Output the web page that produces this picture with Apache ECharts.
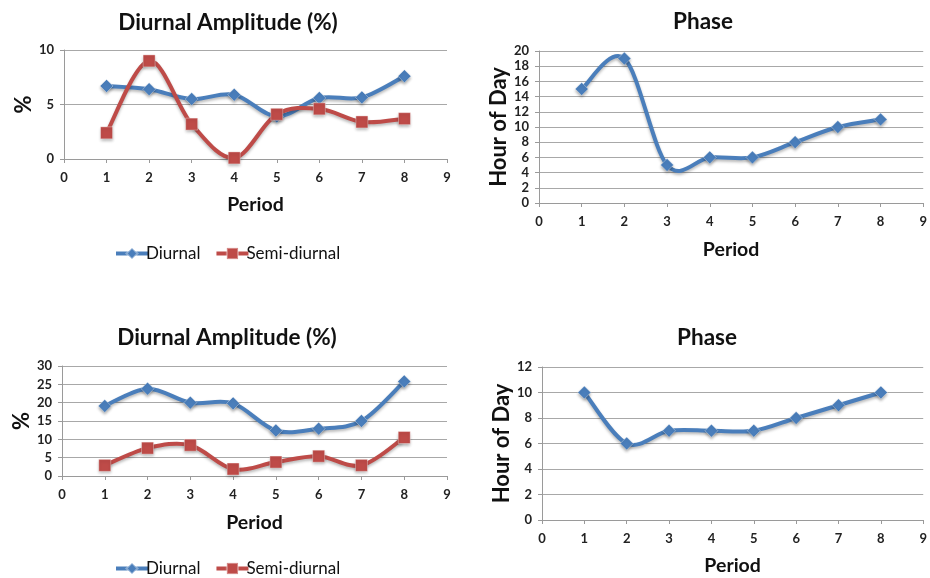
<!DOCTYPE html>
<html>
<head>
<meta charset="utf-8">
<script src="https://cdn.jsdelivr.net/npm/echarts@6/dist/echarts.min.js"></script>
<style>
  html, body { margin: 0; padding: 0; background: #fff; }
  #chart { width: 930px; height: 578px; }
</style>
</head>
<body>
<div id="chart"></div>
<script>
// Periods shared by all four panels
const periods = [1, 2, 3, 4, 5, 6, 7, 8];

// Upper panels
const ampDiurnalA = [6.7, 6.4, 5.5, 5.9, 3.9, 5.6, 5.65, 7.6];
const ampSemiA = [2.4, 9.0, 3.2, 0.1, 4.1, 4.6, 3.4, 3.7];
const phaseA = [15, 19, 5, 6, 6, 8, 10, 11];

// Lower panels
const ampDiurnalB = [19.1, 23.8, 20, 19.8, 12.4, 12.9, 15, 25.8];
const ampSemiB = [2.9, 7.6, 8.4, 1.9, 3.8, 5.4, 2.9, 10.5];
const phaseB = [10, 6, 7, 7, 7, 8, 9, 10];

const BLUE = '#4a7ebb';
const RED = '#be4b48';
const FONT = 'Lato, "Open Sans", sans-serif';
const AXIS_GREY = '#9a9a9a';

const pairs = (ys) => periods.map((p, i) => [p, ys[i]]);

function xAxis(gridIndex, gap) {
  return {
    type: 'value', gridIndex, min: 0, max: 9, interval: 1,
    name: 'Period', nameLocation: 'middle', nameGap: gap,
    nameTextStyle: { fontFamily: FONT, fontWeight: 'bold', fontSize: 19.5, color: '#111' },
    axisLine: { show: true, onZero: false, lineStyle: { color: AXIS_GREY, width: 1 } },
    axisTick: { show: true, length: 4, lineStyle: { color: AXIS_GREY } },
    axisLabel: { fontFamily: FONT, fontWeight: 'bold', fontSize: 13, color: '#222', margin: 12 },
    splitLine: { show: false }
  };
}

function yAxis(gridIndex, max, interval, name, gap) {
  return {
    type: 'value', gridIndex, min: 0, max, interval,
    name, nameLocation: 'middle', nameGap: gap, nameRotate: 90,
    nameTextStyle: { fontFamily: FONT, fontWeight: 'bold', fontSize: 22, color: '#111' },
    axisLine: { show: true, lineStyle: { color: AXIS_GREY, width: 1 } },
    axisTick: { show: true, length: 4, lineStyle: { color: AXIS_GREY } },
    axisLabel: { fontFamily: FONT, fontWeight: 'bold', fontSize: 13, color: '#222', margin: 10 },
    splitLine: { show: true, lineStyle: { color: '#a8a8a8', width: 1 } }
  };
}

// Smoothed curve through the points (cardinal spline, one Bezier piece per interval)
function curve(data, idx, color) {
  const pts = pairs(data);
  return {
    type: 'custom', xAxisIndex: idx, yAxisIndex: idx,
    data: pts, silent: true, z: 1,
    renderItem(params, api) {
      const i = params.dataIndex;
      if (i >= pts.length - 1) return null;
      const P = pts.map((d) => api.coord(d));
      const p0 = P[Math.max(i - 1, 0)], p1 = P[i], p2 = P[i + 1], p3 = P[Math.min(i + 2, P.length - 1)];
      const k = 1 / 6;
      return {
        type: 'bezierCurve',
        shape: {
          x1: p1[0], y1: p1[1], x2: p2[0], y2: p2[1],
          cpx1: p1[0] + (p2[0] - p0[0]) * k, cpy1: p1[1] + (p2[1] - p0[1]) * k,
          cpx2: p2[0] - (p3[0] - p1[0]) * k, cpy2: p2[1] - (p3[1] - p1[1]) * k
        },
        style: {
          stroke: color, lineWidth: 4, fill: null, lineCap: 'round',
          shadowColor: 'rgba(0,0,0,0.28)', shadowBlur: 3, shadowOffsetY: 2
        }
      };
    }
  };
}

// Point markers (line series without a visible stroke, so the legend keeps its line icon)
function markers(name, data, idx, color, symbol, size) {
  return {
    type: 'line', name, data: pairs(data),
    xAxisIndex: idx, yAxisIndex: idx,
    symbol, symbolSize: size,
    lineStyle: { color, width: 0, opacity: 0 },
    itemStyle: { color, borderColor: 'rgba(255,255,255,0.35)', borderWidth: 1,
                 shadowColor: 'rgba(0,0,0,0.3)', shadowBlur: 3, shadowOffsetY: 2 },
    emphasis: { disabled: true },
    z: symbol === 'rect' ? 4 : 3
  };
}

function title(text, left, top) {
  return {
    text, left, top, textAlign: 'center',
    textStyle: { fontFamily: FONT, fontWeight: 'bold', fontSize: 22.5, color: '#111' }
  };
}

function legend(top) {
  return {
    top, left: 109, itemWidth: 32, itemHeight: 14, itemGap: 14,
    data: ['Diurnal', 'Semi-diurnal'],
    lineStyle: { width: 4, opacity: 1 },
    textStyle: { fontFamily: FONT, fontSize: 17, color: '#111', padding: [0, 0, 0, -7] }
  };
}

const chart = echarts.init(document.getElementById('chart'), null, { renderer: 'canvas' });
chart.setOption({
  animation: false,
  backgroundColor: '#fff',
  title: [
    title('Diurnal Amplitude (%)', 223, 6),
    title('Phase', 698, 5),
    title('Diurnal Amplitude (%)', 222, 321),
    title('Phase', 702, 321)
  ],
  legend: [legend(240), legend(555)],
  grid: [
    { left: 64, right: 483, top: 50, height: 109 },
    { left: 539, right: 6, top: 51, height: 152 },
    { left: 62, right: 483, top: 366, height: 110 },
    { left: 542, right: 4, top: 367, height: 153 }
  ],
  xAxis: [xAxis(0, 36), xAxis(1, 37), xAxis(2, 37), xAxis(3, 36)],
  yAxis: [
    yAxis(0, 10, 5, '%', 28),
    yAxis(1, 20, 2, 'Hour of Day', 26),
    yAxis(2, 30, 5, '%', 28),
    yAxis(3, 12, 2, 'Hour of Day', 26)
  ],
  series: [
    curve(ampDiurnalA, 0, BLUE),
    curve(ampSemiA, 0, RED),
    curve(phaseA, 1, BLUE),
    curve(ampDiurnalB, 2, BLUE),
    curve(ampSemiB, 2, RED),
    curve(phaseB, 3, BLUE),
    markers('Diurnal', ampDiurnalA, 0, BLUE, 'diamond', 13),
    markers('Semi-diurnal', ampSemiA, 0, RED, 'rect', 12),
    markers('Diurnal', phaseA, 1, BLUE, 'diamond', 13),
    markers('Diurnal', ampDiurnalB, 2, BLUE, 'diamond', 13),
    markers('Semi-diurnal', ampSemiB, 2, RED, 'rect', 12),
    markers('Diurnal', phaseB, 3, BLUE, 'diamond', 13)
  ]
});
</script>
</body>
</html>
